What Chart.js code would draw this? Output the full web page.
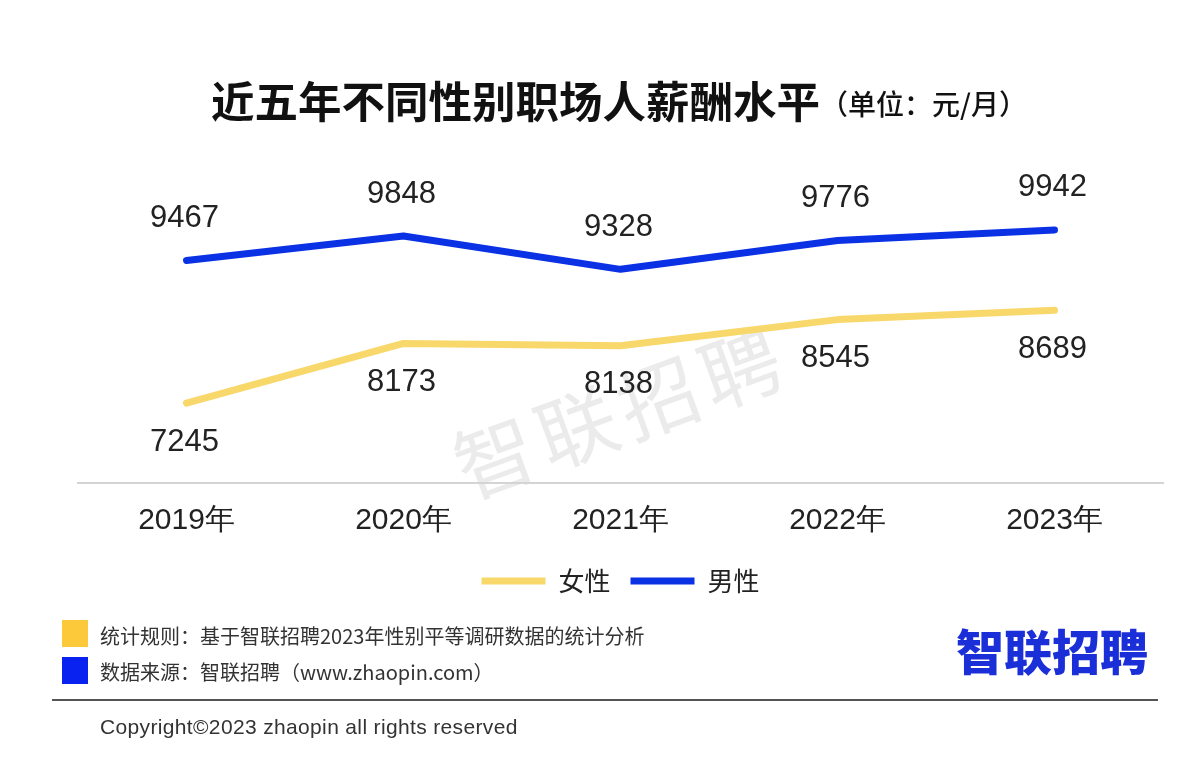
<!DOCTYPE html>
<html>
<head>
<meta charset="utf-8">
<script src="https://cdn.jsdelivr.net/npm/chart.js@4"></script>
<style>
  body { margin: 0; background: #fff; }
  #page { position: relative; width: 1200px; height: 766px; overflow: hidden; background: #fff; }
  #chart { position: absolute; left: 0; top: 0; }
  .txt { position: absolute; white-space: nowrap; font-family: "Noto Sans CJK SC", "Liberation Sans", sans-serif; }
  #title { left: 211px; top: 71px; font-size: 43.5px; font-weight: 700; color: #111; line-height: 58px; }
  #title span { font-size: 28px; font-weight: 500; vertical-align: 3px; }
  #watermark { left: 442px; top: 429px; font-size: 80px; line-height: 80px; color: #ebebeb; transform: rotate(-20deg); transform-origin: left top; letter-spacing: 7px; }
  .sq { position: absolute; width: 26px; height: 27px; }
  .note { font-size: 20px; color: #333; line-height: 26px; }
  #rule { position: absolute; left: 52px; top: 699px; width: 1106px; height: 2px; background: #555; }
  #logo { left: 956px; top: 616px; font-size: 48px; font-weight: 900; color: #1b2fd8; line-height: 66px; }
  #copy { left: 100px; top: 713px; font-family: "Liberation Sans", Arial, sans-serif; font-size: 21px; color: #333; letter-spacing: 0.35px; line-height: 28px; }
</style>
</head>
<body>
<div id="page">
  <div class="txt" id="watermark">智联招聘</div>
  <canvas id="chart" width="1200" height="766"></canvas>
  <div class="txt" id="title">近五年不同性别职场人薪酬水平<span>（单位：元/月）</span></div>
  <div class="sq" style="left:62px;top:620px;background:#fbc93a"></div>
  <div class="txt note" style="left:100px;top:623px">统计规则：基于智联招聘2023年性别平等调研数据的统计分析</div>
  <div class="sq" style="left:62px;top:657px;background:#0a22f0"></div>
  <div class="txt note" style="left:100px;top:659px">数据来源：智联招聘（www.zhaopin.com）</div>
  <div class="txt" id="logo">智联招聘</div>
  <div id="rule"></div>
  <div class="txt" id="copy">Copyright©2023 zhaopin all rights reserved</div>
</div>
<script>
var years = ['2019年', '2020年', '2021年', '2022年', '2023年'];
var female = [7245, 8173, 8138, 8545, 8689];
var male = [9467, 9848, 9328, 9776, 9942];

// value labels above (male) / below (female) each point
var valueLabels = {
  id: 'valueLabels',
  afterDatasetsDraw: function(chart) {
    var ctx = chart.ctx;
    ctx.save();
    ctx.font = '31px "Liberation Sans", Arial, sans-serif';
    ctx.fillStyle = '#222';
    ctx.textAlign = 'center';
    ctx.textBaseline = 'middle';
    chart.data.datasets.forEach(function(ds, i) {
      var meta = chart.getDatasetMeta(i);
      var off = ds.labelOffset;
      meta.data.forEach(function(pt, j) {
        ctx.fillText(String(ds.data[j]), pt.x - 2, pt.y + off);
      });
    });
    ctx.restore();
  }
};

new Chart(document.getElementById('chart'), {
  type: 'line',
  data: {
    labels: years,
    datasets: [
      {
        label: '女性',
        data: female,
        borderColor: '#f8d86a',
        backgroundColor: '#f8d86a',
        borderWidth: 7,
        borderCapStyle: 'round',
        borderJoinStyle: 'round',
        pointRadius: 0,
        tension: 0,
        labelOffset: 39
      },
      {
        label: '男性',
        data: male,
        borderColor: '#0b31e5',
        backgroundColor: '#0b31e5',
        borderWidth: 7,
        borderCapStyle: 'round',
        borderJoinStyle: 'round',
        pointRadius: 0,
        tension: 0,
        labelOffset: -42
      }
    ]
  },
  options: {
    responsive: false,
    animation: false,
    devicePixelRatio: 1,
    layout: { padding: { top: 162, left: 78, right: 37, bottom: 162 } },
    plugins: {
      tooltip: { enabled: false },
      legend: {
        position: 'bottom',
        labels: {
          usePointStyle: true,
          pointStyle: 'line',
          pointStyleWidth: 64,
          color: '#222',
          padding: 20,
          font: { family: '"Noto Sans CJK SC", sans-serif', size: 26 }
        }
      }
    },
    scales: {
      x: {
        offset: true,
        grid: { display: false },
        border: { display: true, color: '#d4d4d4', width: 2 },
        ticks: {
          color: '#222',
          padding: 12,
          font: { family: '"Liberation Sans", Arial, sans-serif', size: 30 }
        },
        afterFit: function(scale) { scale.height = 65; }
      },
      y: {
        display: false,
        min: 6000,
        max: 11000
      }
    }
  },
  plugins: [valueLabels]
});
</script>
</body>
</html>
